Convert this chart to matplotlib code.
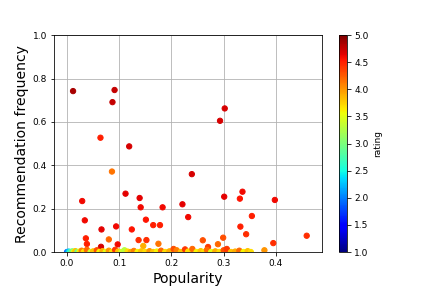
import numpy as np
import matplotlib
matplotlib.use("Agg")
import matplotlib.pyplot as plt

# points: popularity, recommendation frequency, rating
popularity = [
    0.0115, 0.091, 0.087, 0.064, 0.119, 0.086, 0.302, 0.293, 0.239,
    0.029, 0.112, 0.139, 0.141, 0.183, 0.221, 0.232, 0.301, 0.336, 0.331, 0.398,
    0.034, 0.151, 0.165, 0.178, 0.066, 0.094, 0.124, 0.332, 0.343, 0.354,
    0.036, 0.038, 0.080, 0.137, 0.152, 0.097, 0.065, 0.175, 0.146,
    0.260, 0.299, 0.270, 0.289, 0.395, 0.459,
    0.000, 0.003, 0.006, 0.010, 0.013, 0.016, 0.020, 0.024, 0.028, 0.032,
    0.038, 0.045, 0.050, 0.057, 0.062, 0.068, 0.074, 0.080, 0.086, 0.092,
    0.098, 0.104, 0.110, 0.116, 0.122, 0.128, 0.135, 0.142, 0.150, 0.158,
    0.165, 0.172, 0.180, 0.188, 0.196, 0.204, 0.210, 0.218, 0.226, 0.232,
    0.240, 0.248, 0.256, 0.262, 0.268, 0.276, 0.284, 0.292, 0.300, 0.306,
    0.314, 0.322, 0.330, 0.338, 0.346, 0.352, 0.378,
]
rec_freq = [
    0.742, 0.747, 0.691, 0.527, 0.487, 0.371, 0.662, 0.605, 0.359,
    0.235, 0.269, 0.249, 0.206, 0.206, 0.220, 0.161, 0.255, 0.278, 0.246, 0.240,
    0.146, 0.149, 0.124, 0.124, 0.104, 0.118, 0.104, 0.117, 0.082, 0.166,
    0.063, 0.037, 0.058, 0.055, 0.055, 0.035, 0.024, 0.038, 0.028,
    0.054, 0.066, 0.023, 0.036, 0.041, 0.075,
    0.000, 0.002, 0.000, 0.003, 0.000, 0.004, 0.000, 0.002, 0.006, 0.000,
    0.010, 0.000, 0.003, 0.008, 0.000, 0.004, 0.000, 0.006, 0.000, 0.010,
    0.002, 0.000, 0.008, 0.002, 0.000, 0.005, 0.000, 0.003, 0.000, 0.004,
    0.000, 0.002, 0.006, 0.000, 0.003, 0.014, 0.008, 0.000, 0.012, 0.002,
    0.014, 0.000, 0.004, 0.000, 0.010, 0.000, 0.003, 0.000, 0.008, 0.014,
    0.000, 0.002, 0.006, 0.000, 0.004, 0.000, 0.008,
]
rating = [
    4.85, 4.75, 4.75, 4.5, 4.7, 4.15, 4.7, 4.7, 4.7,
    4.6, 4.65, 4.65, 4.6, 4.6, 4.65, 4.6, 4.65, 4.6, 4.55, 4.6,
    4.6, 4.55, 4.5, 4.5, 4.65, 4.6, 4.55, 4.5, 4.45, 4.5,
    4.5, 4.5, 4.2, 4.45, 4.45, 4.6, 4.7, 4.15, 3.9,
    4.3, 4.3, 4.4, 4.2, 4.45, 4.45,
    1.9, 2.3, 2.7, 3.0, 3.5, 3.8, 2.9, 3.6, 4.1, 3.7,
    4.2, 3.4, 3.8, 4.3, 3.6, 3.9, 3.5, 4.0, 3.7, 4.4,
    3.8, 3.4, 3.3, 3.7, 3.9, 4.1, 3.6, 3.8, 3.7, 4.0,
    3.8, 3.6, 4.2, 3.7, 3.9, 4.3, 4.1, 3.8, 4.4, 3.7,
    4.2, 3.6, 3.8, 3.7, 4.2, 3.5, 3.9, 3.7, 4.3, 4.4,
    3.8, 3.9, 4.2, 3.6, 3.8, 3.7, 4.0,
]

fig = plt.figure(figsize=(6, 4), dpi=72)
ax = fig.add_axes([0.125, 0.125, 0.62, 0.753])
cax = fig.add_axes([0.785, 0.125, 0.019, 0.753])

sc = ax.scatter(popularity, rec_freq, c=rating, cmap="jet", vmin=1, vmax=5, s=28)
ax.set_xlim(-0.025, 0.488)
ax.set_ylim(0, 1)
ax.set_xticks([0.0, 0.1, 0.2, 0.3, 0.4])
ax.set_xlabel("Popularity", fontsize=14)
ax.set_ylabel("Recommendation frequency", fontsize=14)
ax.tick_params(labelsize=9)
ax.grid(True)
ax.set_axisbelow(True)

cb = fig.colorbar(sc, cax=cax)
cb.set_label("rating", fontsize=9)
cb.ax.tick_params(labelsize=9)

fig.savefig("out.png", dpi=72)
